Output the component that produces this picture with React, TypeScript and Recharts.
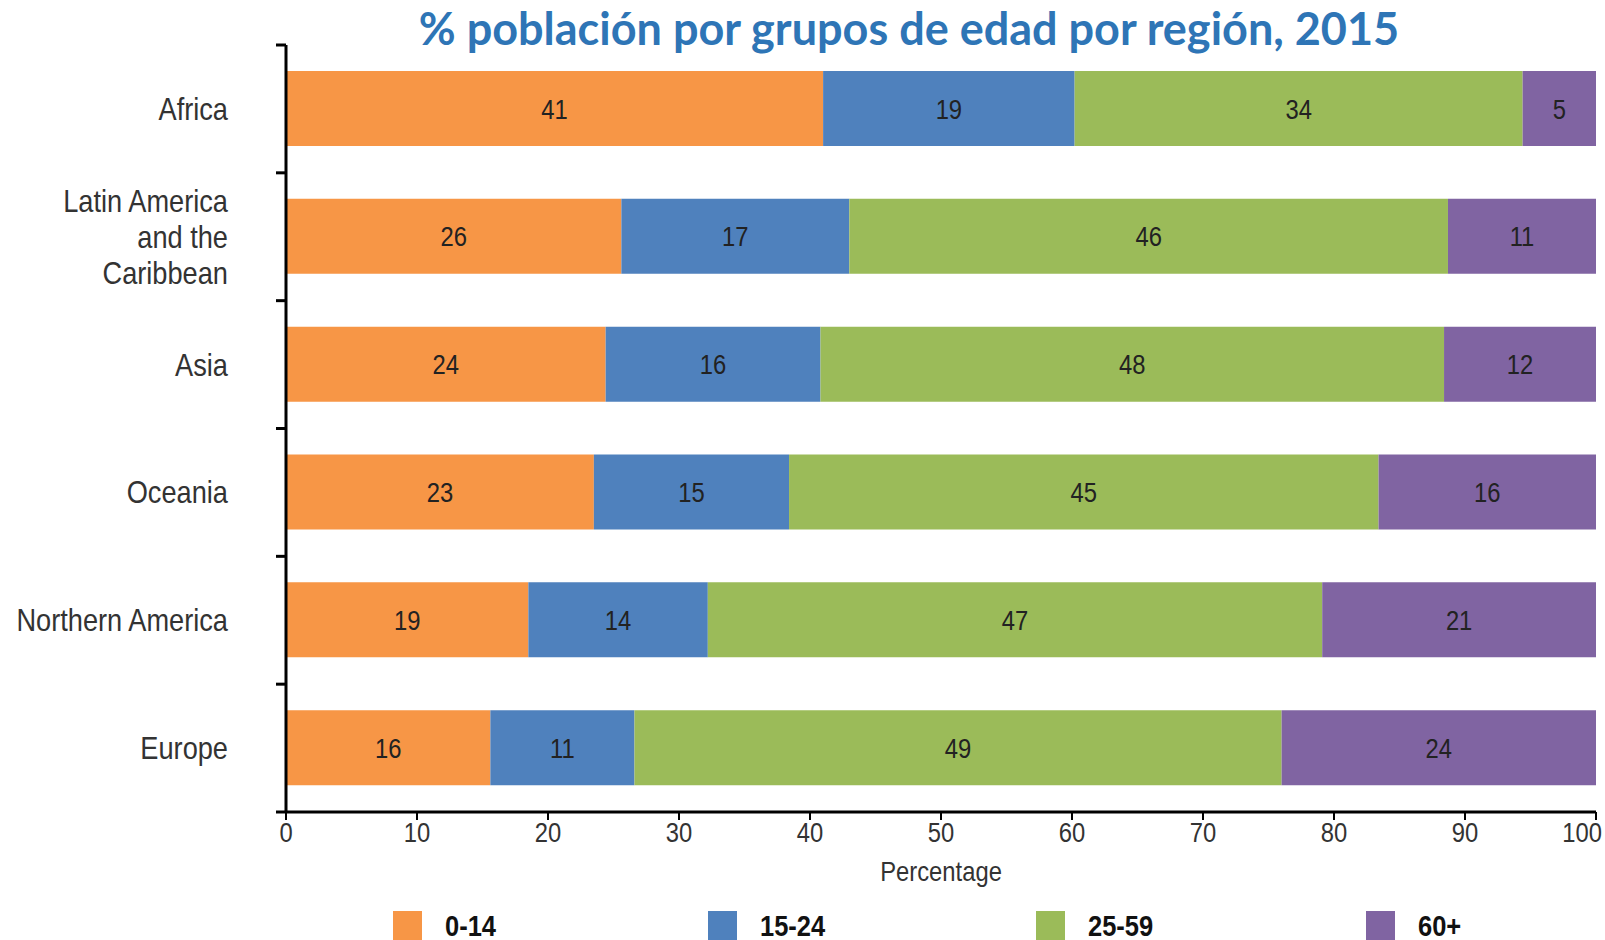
import { BarChart, Bar, XAxis, YAxis, LabelList } from 'recharts';

// regions, top to bottom
const regions = ['Africa', 'Latin America\nand the\nCaribbean', 'Asia', 'Oceania', 'Northern America', 'Europe'];

// bar lengths (percent)
const age0to14 = [41.0, 25.6, 24.4, 23.5, 18.5, 15.6];
const age15to24 = [19.2, 17.4, 16.4, 14.9, 13.7, 11.0];
const age25to59 = [34.2, 45.7, 47.6, 45.0, 46.9, 49.4];
const age60plus = [5.6, 11.3, 11.6, 16.6, 20.9, 24.0];

// printed labels
const label0to14 = [41, 26, 24, 23, 19, 16];
const label15to24 = [19, 17, 16, 15, 14, 11];
const label25to59 = [34, 46, 48, 45, 47, 49];
const label60plus = [5, 11, 12, 16, 21, 24];

const xTicks = [0, 10, 20, 30, 40, 50, 60, 70, 80, 90, 100];

const series = [
  { key: 'a', label: 'la', name: '0-14', color: '#F79646' },
  { key: 'b', label: 'lb', name: '15-24', color: '#4F81BD' },
  { key: 'c', label: 'lc', name: '25-59', color: '#9BBB59' },
  { key: 'd', label: 'ld', name: '60+', color: '#8064A2' },
];

const data = regions.map((region, i) => ({
  region,
  a: age0to14[i],
  b: age15to24[i],
  c: age25to59[i],
  d: age60plus[i],
  la: label0to14[i],
  lb: label15to24[i],
  lc: label25to59[i],
  ld: label60plus[i],
}));

// no condensed font installed, so squeeze Liberation Sans sideways
const FONT = '"Liberation Sans", Arial, sans-serif';
const SQUEEZE = 0.85;
const PLOT_LEFT = 286;
const PLOT_TOP = 45;
const PLOT_BOTTOM = 812;
const BAND = (PLOT_BOTTOM - PLOT_TOP) / regions.length;
const LEGEND_LEFT = [393, 708, 1036, 1366];

const RegionTick = (props: any) => {
  const { y, payload, index } = props;
  const lines = String(payload.value).split('\n');
  const lh = 36;
  const y0 = -((lines.length - 1) * lh) / 2 + 11;
  return (
    <g>
      <line x1={PLOT_LEFT - 10} x2={PLOT_LEFT} y1={y - BAND / 2} y2={y - BAND / 2} stroke="#000" strokeWidth={3} />
      {index === regions.length - 1 && (
        <line x1={PLOT_LEFT - 10} x2={PLOT_LEFT} y1={y + BAND / 2} y2={y + BAND / 2} stroke="#000" strokeWidth={3} />
      )}
      <g transform={`translate(228, ${y}) scale(${SQUEEZE}, 1)`}>
        <text textAnchor="end" fill="#333" fontSize={32} fontFamily={FONT}>
          {lines.map((l, k) => (
            <tspan key={k} x={0} y={y0 + k * lh}>
              {l}
            </tspan>
          ))}
        </text>
      </g>
    </g>
  );
};

const PctTick = (props: any) => {
  const { x, y, payload, index } = props;
  // last label is pushed inward so it stays on the page
  const last = index === xTicks.length - 1;
  return (
    <g transform={`translate(${last ? x + 6 : x}, ${y}) scale(${SQUEEZE}, 1)`}>
      <text textAnchor={last ? 'end' : 'middle'} dy={20} fill="#333" fontSize={28} fontFamily={FONT}>
        {payload.value}
      </text>
    </g>
  );
};

const SegmentLabel = (props: any) => {
  const { x, y, width, height, value } = props;
  return (
    <g transform={`translate(${x + width / 2}, ${y + height / 2}) scale(${SQUEEZE}, 1)`}>
      <text textAnchor="middle" dy={10} fill="#222" fontSize={28} fontFamily={FONT}>
        {value}
      </text>
    </g>
  );
};

export default function App() {
  return (
    <div style={{ position: 'absolute', left: 0, top: 0, width: 1605, height: 940, background: '#fff', overflow: 'hidden' }}>
      <div
        style={{
          position: 'absolute',
          left: 0,
          top: 6,
          width: 1818,
          textAlign: 'center',
          fontFamily: 'Lato, sans-serif',
          fontWeight: 700,
          fontSize: 45,
          lineHeight: 1,
          color: '#2E75B6',
          whiteSpace: 'nowrap',
        }}
      >
        % población por grupos de edad por región, 2015
      </div>
      <BarChart
        width={1605}
        height={940}
        data={data}
        layout="vertical"
        margin={{ top: PLOT_TOP, right: 9, left: 0, bottom: 60 }}
      >
        <XAxis
          type="number"
          domain={[0, 100]}
          ticks={xTicks}
          interval={0}
          height={68}
          tickSize={8}
          tickMargin={2}
          axisLine={{ stroke: '#000', strokeWidth: 3 }}
          tickLine={{ stroke: '#000', strokeWidth: 2 }}
          tick={<PctTick />}
        />
        <YAxis
          type="category"
          dataKey="region"
          width={PLOT_LEFT}
          interval={0}
          tickLine={false}
          axisLine={{ stroke: '#000', strokeWidth: 3 }}
          tick={<RegionTick />}
        />
        {series.map((s) => (
          <Bar key={s.key} dataKey={s.key} name={s.name} stackId="s" fill={s.color} barSize={75} isAnimationActive={false}>
            <LabelList dataKey={s.label} position="center" content={<SegmentLabel />} />
          </Bar>
        ))}
      </BarChart>
      <div
        style={{
          position: 'absolute',
          left: 841,
          width: 200,
          top: 858,
          textAlign: 'center',
          fontFamily: FONT,
          fontSize: 28,
          lineHeight: '28px',
          color: '#333',
          transform: `scaleX(${SQUEEZE})`,
        }}
      >
        Percentage
      </div>
      {series.map((s, i) => (
        <div key={s.key} style={{ position: 'absolute', left: LEGEND_LEFT[i], top: 911, display: 'flex', fontFamily: FONT }}>
          <div style={{ width: 29, height: 29, background: s.color }} />
          <div
            style={{
              marginLeft: 23,
              fontSize: 30,
              fontWeight: 700,
              color: '#111',
              lineHeight: '30px',
              transform: `scaleX(${SQUEEZE})`,
              transformOrigin: 'left center',
            }}
          >
            {s.name}
          </div>
        </div>
      ))}
    </div>
  );
}
